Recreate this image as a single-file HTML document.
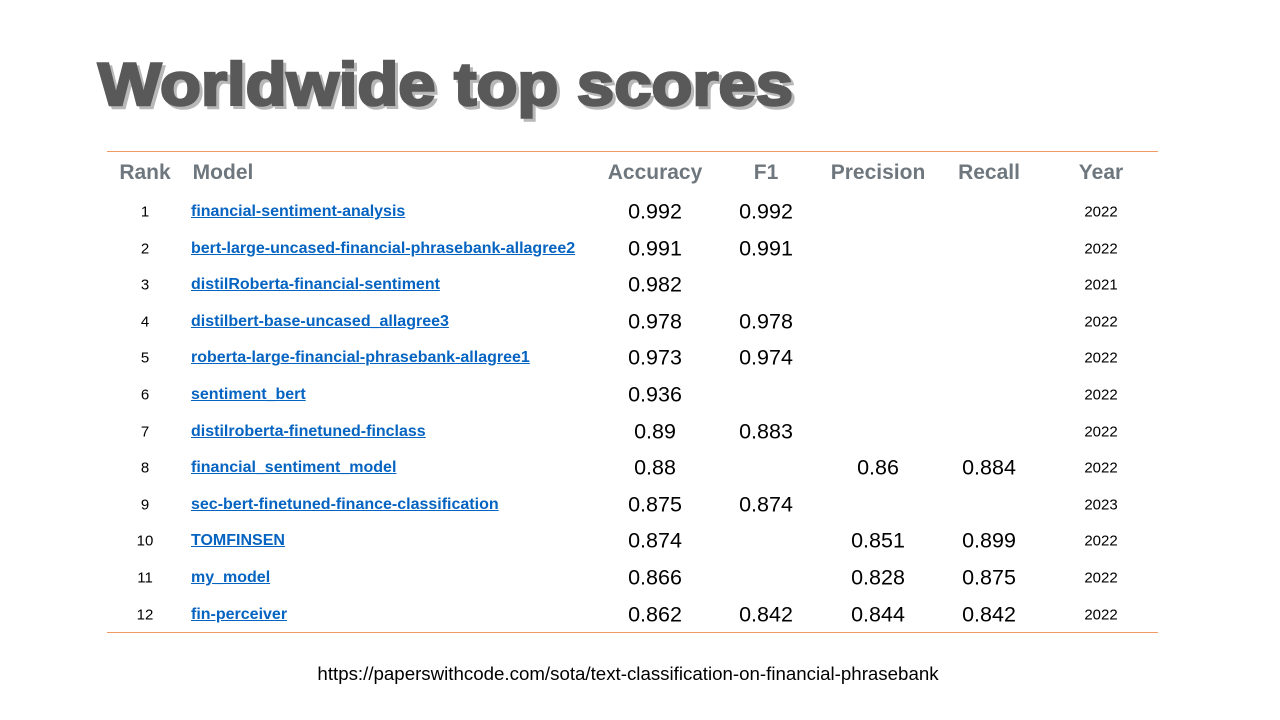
<!DOCTYPE html>
<html><head><meta charset="utf-8"><style>
body{margin:0;width:1280px;height:720px;background:#fff;font-family:"Liberation Sans",Arial,sans-serif;position:relative;overflow:hidden}
.a{position:absolute;white-space:nowrap}
.line{position:absolute;left:107px;width:1051px;height:1px;background:#ee9a62}
.h{font-weight:bold;font-size:21px;color:#6f777e;transform:translate(-50%,-50%)}
.c{transform:translate(-50%,-50%)}
.m{font-weight:bold;font-size:16px;color:#0563c1;text-decoration:underline;transform:translateY(-50%)}
.n{font-size:21.5px;color:#000}
.s{font-size:15px;color:#000}
</style></head><body>
<svg class="a" style="left:0;top:0" width="1280" height="140">
<text x="101" y="108" textLength="695" lengthAdjust="spacingAndGlyphs" font-family="Liberation Sans" font-weight="bold" font-size="60" fill="#b8b8b8" stroke="#b8b8b8" stroke-width="2.5">Worldwide top scores</text>
<text x="98" y="105" textLength="695" lengthAdjust="spacingAndGlyphs" font-family="Liberation Sans" font-weight="bold" font-size="60" fill="#595959" stroke="#595959" stroke-width="2.5">Worldwide top scores</text>
</svg>
<div class="line" style="top:151px"></div>
<div class="line" style="top:632px"></div>
<div id="t"></div>
<div class="a c" style="left:628px;top:674px;font-size:18.7px">https://paperswithcode.com/sota/text-classification-on-financial-phrasebank</div>
<script>
const models=["financial-sentiment-analysis","bert-large-uncased-financial-phrasebank-allagree2","distilRoberta-financial-sentiment","distilbert-base-uncased_allagree3","roberta-large-financial-phrasebank-allagree1","sentiment_bert","distilroberta-finetuned-finclass","financial_sentiment_model","sec-bert-finetuned-finance-classification","TOMFINSEN","my_model","fin-perceiver"];
const accuracy=["0.992","0.991","0.982","0.978","0.973","0.936","0.89","0.88","0.875","0.874","0.866","0.862"];
const f1=["0.992","0.991","","0.978","0.974","","0.883","","0.874","","","0.842"];
const precision=["","","","","","","","0.86","","0.851","0.828","0.844"];
const recall=["","","","","","","","0.884","","0.899","0.875","0.842"];
const years=["2022","2022","2021","2022","2022","2022","2022","2022","2023","2022","2022","2022"];
const headers=[["Rank",145],["Model",223],["Accuracy",655],["F1",766],["Precision",878],["Recall",989],["Year",1101]];
const t=document.getElementById('t');
function add(cls,x,y,txt,name,inter){const d=document.createElement('div');d.className='a '+cls;d.style.left=x+'px';d.style.top=y+'px';d.textContent=txt;


t.appendChild(d);}
headers.forEach(h=>add('h',h[1],173,h[0],'header-'+h[0].toLowerCase(),false));
models.forEach((m,i)=>{const y=212+i*36.6;
add('c s',145,y,String(i+1),'rank-cell',false);
add('m',191,y,m,'model-link',true);
add('c n',655,y,accuracy[i],'accuracy-cell',false);
if(f1[i])add('c n',766,y,f1[i],'f1-cell',false);
if(precision[i])add('c n',878,y,precision[i],'precision-cell',false);
if(recall[i])add('c n',989,y,recall[i],'recall-cell',false);
add('c s',1101,y,years[i],'year-cell',false);});
</script>
</body></html>
